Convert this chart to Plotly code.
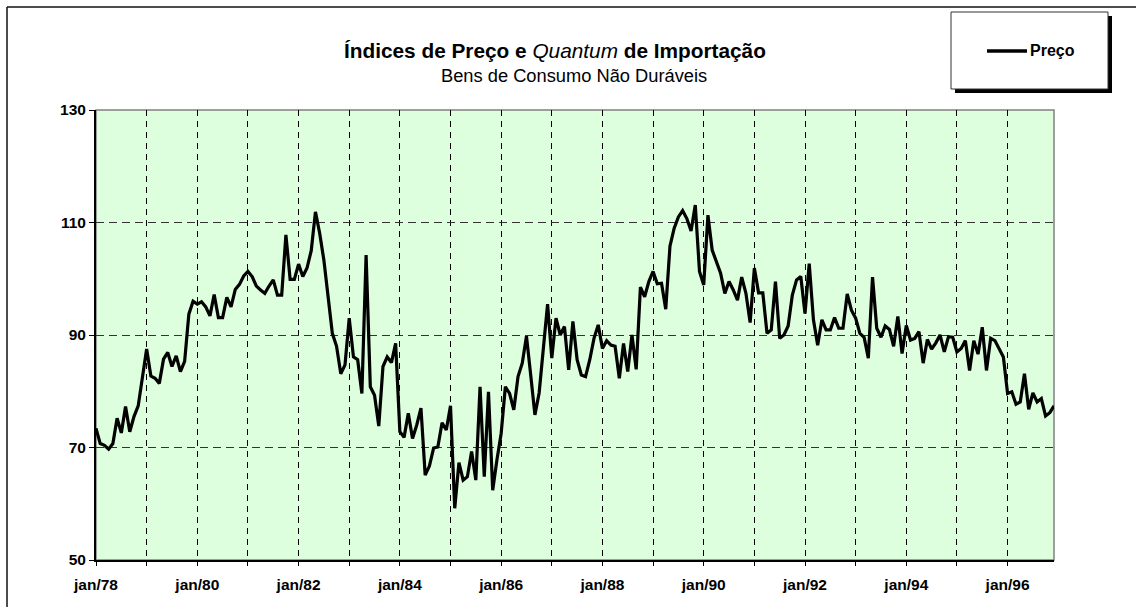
import plotly.graph_objects as go

# ---- data ----
month_names = ["jan", "fev", "mar", "abr", "mai", "jun", "jul", "ago", "set", "out", "nov", "dez"]
years = list(range(1978, 1997))
categories = [f"{m}/{str(y)[2:]}" for y in years for m in month_names]

preco = [
    73.4, 70.7, 70.4, 69.7, 70.7, 75.2, 72.6, 77.3, 72.8, 75.5, 77.4, 82.3,      # 1978
    87.5, 82.7, 82.3, 81.4, 85.7, 86.9, 84.4, 86.3, 83.5, 85.3, 93.7, 96.0,      # 1979
    95.5, 95.9, 95.0, 93.4, 97.2, 93.1, 93.1, 96.7, 95.0, 98.1, 99.0, 100.5,     # 1980
    101.3, 100.4, 98.7, 98.0, 97.4, 98.7, 99.8, 97.1, 97.1, 107.8, 99.9, 99.9,   # 1981
    102.6, 100.4, 101.9, 105.0, 111.9, 108.1, 103.3, 96.8, 90.3, 88.0, 83.1, 84.7,  # 1982
    93.0, 86.1, 85.6, 79.6, 104.2, 80.8, 79.3, 73.8, 84.4, 86.1, 85.1, 88.5,     # 1983
    72.8, 71.8, 76.1, 71.6, 74.0, 77.0, 65.1, 66.7, 69.9, 70.1, 74.4, 73.1,      # 1984
    77.4, 59.2, 67.3, 64.2, 64.8, 69.3, 64.2, 80.8, 64.8, 79.9, 62.4, 67.8,      # 1985
    72.5, 80.8, 79.6, 76.7, 82.6, 85.0, 89.8, 82.9, 75.8, 79.7, 87.6, 95.5,      # 1986
    85.9, 93.0, 90.0, 91.5, 83.8, 92.4, 85.6, 82.9, 82.6, 85.6, 89.4, 91.8,      # 1987
    87.6, 89.0, 88.2, 88.0, 82.3, 88.5, 83.5, 90.0, 83.9, 98.5, 96.8, 99.5,      # 1988
    101.3, 99.1, 99.2, 94.6, 105.8, 109.0, 111.0, 112.1, 110.7, 108.5, 113.1, 101.3,  # 1989
    98.9, 111.3, 105.1, 103.0, 101.0, 97.4, 99.5, 98.0, 96.2, 100.3, 97.4, 92.2,  # 1990
    101.9, 97.5, 97.5, 90.3, 90.9, 99.5, 89.4, 90.0, 91.6, 97.1, 99.8, 100.4,    # 1991
    93.8, 102.7, 92.7, 88.2, 92.7, 90.9, 90.9, 93.1, 91.2, 91.2, 97.3, 94.4,     # 1992
    93.0, 90.3, 89.6, 85.9, 100.3, 91.2, 89.6, 91.6, 91.0, 88.0, 93.3, 86.7,     # 1993
    91.7, 89.1, 89.4, 90.6, 85.0, 89.2, 87.5, 88.6, 90.0, 87.0, 89.7, 89.6,      # 1994
    87.0, 87.6, 89.0, 83.7, 89.0, 86.6, 91.4, 83.7, 89.4, 89.0, 87.6, 86.1,      # 1995
    79.6, 79.9, 77.7, 78.1, 83.1, 76.8, 79.7, 78.1, 78.7, 75.6, 76.2, 77.4,      # 1996
]

x_tickvals = [f"jan/{str(y)[2:]}" for y in years]
x_ticktext = [v if i % 2 == 0 else "" for i, v in enumerate(x_tickvals)]
y_tickvals = [50, 70, 90, 110, 130]

title_main = "Índices de Preço e <i style='font-weight:normal'>Quantum</i> de Importação"
title_sub = "Bens de Consumo Não Duráveis"
series_name = "Preço"

# ---- layout geometry (pixels) ----
W, H = 1136, 607
L, R, T, B = 96, 1054, 110, 560


def px(x):
    return (x - L) / (R - L)


def py(y):
    return (B - y) / (B - T)


FONT = "Arial, 'Liberation Sans', sans-serif"

fig = go.Figure()
fig.add_trace(go.Scatter(
    x=categories, y=preco, mode="lines", name=series_name,
    line=dict(color="black", width=3.2),
    showlegend=False,
))

shapes = [
    # outer chart frame (top and left edges visible)
    dict(type="line", xref="paper", yref="paper", x0=px(7), x1=px(1140), y0=py(7), y1=py(7),
         line=dict(color="#111", width=1.5)),
    dict(type="line", xref="paper", yref="paper", x0=px(7), x1=px(7), y0=py(7), y1=py(612),
         line=dict(color="#111", width=1.5)),
    # plot area border (grey)
    dict(type="rect", xref="paper", yref="paper", x0=0, x1=1, y0=0, y1=1,
         line=dict(color="#808080", width=1.5), layer="below"),
    # legend shadow and box
    dict(type="rect", xref="paper", yref="paper", x0=px(955), x1=px(1112), y0=py(16), y1=py(93),
         fillcolor="black", line=dict(width=0)),
    dict(type="rect", xref="paper", yref="paper", x0=px(951), x1=px(1108), y0=py(12), y1=py(89),
         fillcolor="white", line=dict(color="#333", width=1)),
    # legend sample line
    dict(type="line", xref="paper", yref="paper", x0=px(987), x1=px(1027), y0=py(51), y1=py(51),
         line=dict(color="black", width=3.5)),
]

annotations = [
    dict(text="<b>" + title_main + "</b>", xref="paper", yref="paper", x=px(555), y=py(51),
         xanchor="center", yanchor="middle", showarrow=False,
         font=dict(family=FONT, size=20.8, color="black")),
    dict(text=title_sub, xref="paper", yref="paper", x=px(574), y=py(75),
         xanchor="center", yanchor="middle", showarrow=False,
         font=dict(family=FONT, size=18.3, color="black")),
    dict(text="<b>" + series_name + "</b>", xref="paper", yref="paper", x=px(1028), y=py(51),
         xanchor="left", yanchor="middle", showarrow=False,
         font=dict(family=FONT, size=16, color="black")),
]

fig.update_layout(
    width=W, height=H,
    margin=dict(l=L, r=W - R, t=T, b=H - B, pad=0),
    paper_bgcolor="white",
    plot_bgcolor="#DDFFDD",
    font=dict(family=FONT, color="black"),
    shapes=shapes,
    annotations=annotations,
    showlegend=False,
    hovermode=False,
)

fig.update_xaxes(
    type="category",
    range=[0, len(categories) - 1],
    tickmode="array", tickvals=x_tickvals, ticktext=x_ticktext,
    ticks="outside", ticklen=4, tickcolor="black", tickwidth=1,
    showline=True, linecolor="black", linewidth=2,
    showgrid=True, gridcolor="black", gridwidth=1, griddash="6px,5px",
    tickfont=dict(family=FONT, size=15.5, color="black", weight="bold"),
    ticklabelstandoff=5,
    zeroline=False, fixedrange=True,
)
fig.update_yaxes(
    range=[50, 130],
    tickmode="array", tickvals=y_tickvals,
    ticks="outside", ticklen=5, tickcolor="black", tickwidth=1,
    showline=True, linecolor="black", linewidth=2,
    showgrid=True, gridcolor="#333", gridwidth=1, griddash="8px,5px",
    tickfont=dict(family=FONT, size=15.5, color="black", weight="bold"),
    ticklabelstandoff=0,
    zeroline=False, fixedrange=True,
)

fig.write_html(
    "out.html",
    config={"displayModeBar": False, "staticPlot": True},
    post_script="document.body.style.margin='0';document.body.style.padding='0';",
)
